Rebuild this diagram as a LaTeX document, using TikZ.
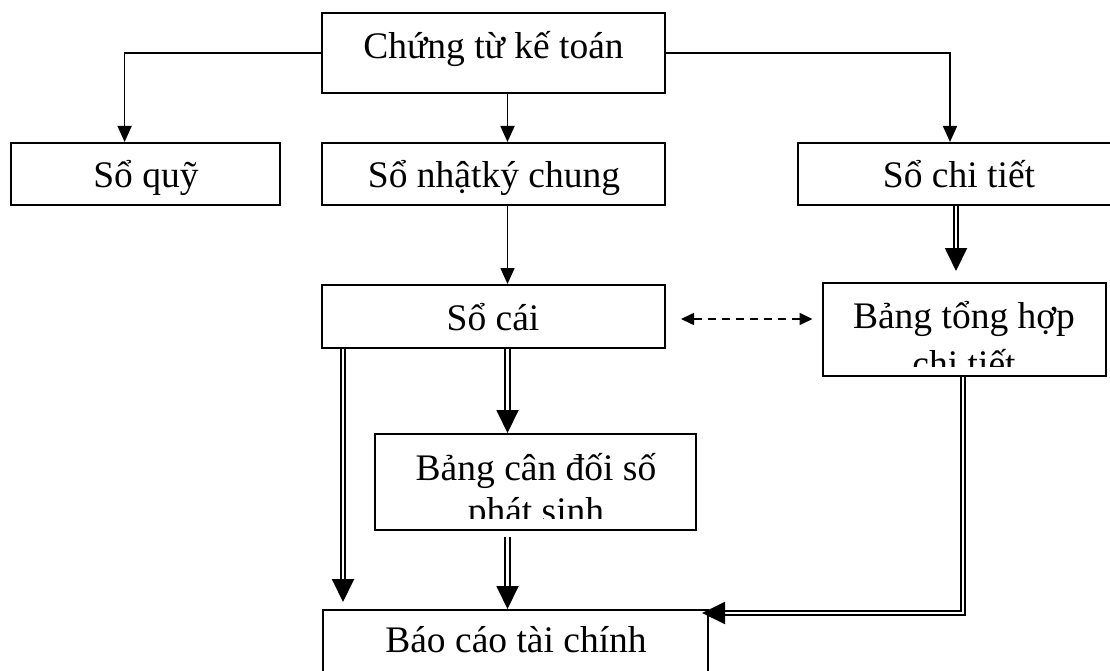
\documentclass[tikz,border=0pt]{standalone}
\usepackage{fontspec}
\setmainfont{Liberation Serif}
\usetikzlibrary{arrows.meta}
\begin{document}
\begin{tikzpicture}[x=1pt,y=-1pt,
  box/.style={draw, line width=2pt, inner sep=0pt, rectangle},
  lbl/.style={anchor=base, inner sep=0pt, font=\fontsize{37.5}{43}\selectfont},
  sarr/.style={line width=1.7pt, -{Triangle[length=16pt,width=14pt]}},
  darr/.style={double, double distance=2.8pt, line width=1.9pt, -{Triangle[length=23pt,width=22pt]}},
  dasharr/.style={line width=1.6pt, dash pattern=on 8pt off 6pt, {Triangle[length=13pt,width=12pt]}-{Triangle[length=13pt,width=12pt]}}
]
\useasboundingbox (0,0) rectangle (1110,671);
% boxes
\node[box, minimum width=343pt, minimum height=80pt] (ctkt) at (493.5,53) {};
\node[box, minimum width=269.5pt, minimum height=62pt] (soquy) at (145.25,174) {};
\node[box, minimum width=343pt, minimum height=62pt] (snkc) at (493.5,174) {};
\node[box, minimum width=322pt, minimum height=62pt] (sct) at (959,174) {};
\node[box, minimum width=343pt, minimum height=63pt] (socai) at (493.5,316.5) {};
\node[box, minimum width=283.5pt, minimum height=93pt] (bth) at (964.25,329.5) {};
\node[box, minimum width=321pt, minimum height=96pt] (bcd) at (535.5,482) {};
\node[box, minimum width=385pt, minimum height=80pt] (bctc) at (515.5,650) {};
% texts
\node[lbl] (t1) at (493.5,59) {Chứng từ kế toán};
\node[lbl] (t2) at (146,188) {Sổ quỹ};
\node[lbl] (t3) at (494,188) {Sổ nhậtký chung};
\node[lbl] (t4) at (959,188) {Sổ chi tiết};
\node[lbl] (t5) at (493,330) {Sổ cái};
\begin{scope}
  \clip (822.5,283) rectangle (1106,366);
  \node[lbl] (t6a) at (964,328) {Bảng tổng hợp};
  \node[lbl] (t6b) at (964,376) {chi tiết};
\end{scope}
\begin{scope}
  \clip (375,434) rectangle (696,518);
  \node[lbl] (t7a) at (536,480) {Bảng cân đối số};
  \node[lbl] (t7b) at (536,523) {phát sinh};
\end{scope}
\node[lbl] (t8) at (516,652) {Báo cáo tài chính};
% helper coordinates
\coordinate (xL) at (124.6,0);
\coordinate (xR) at (950,0);
\coordinate (xM) at (507.5,0);
\coordinate (xD) at (956,0);
\coordinate (xA) at (343,0);
\coordinate (yD) at (0,319);
\coordinate (bend) at (963,613);
\coordinate (tipR) at (702,613);
% connectors
\draw[sarr] (ctkt.west) -| (xL |- soquy.north);
\draw[sarr] (ctkt.east) -| (xR |- sct.north);
\draw[sarr] (xM |- ctkt.south) -- (xM |- snkc.north);
\draw[sarr] (xM |- snkc.south) -- (xM |- socai.north);
\draw[darr, shorten >=11pt] (xD |- sct.south) -- (xD |- bth.north);
\draw[dasharr, shorten <=15pt, shorten >=9pt] (socai.east |- yD) -- (bth.west |- yD);
\draw[darr, shorten >=7pt] (xA |- socai.south) -- (xA |- bctc.north);
\draw[darr] (xM |- socai.south) -- (xM |- bcd.north);
\draw[darr, shorten <=6pt] (xM |- bcd.south) -- (xM |- bctc.north);
\draw[darr] (bend |- bth.south) -- (bend) -- (tipR);
\end{tikzpicture}
\end{document}
